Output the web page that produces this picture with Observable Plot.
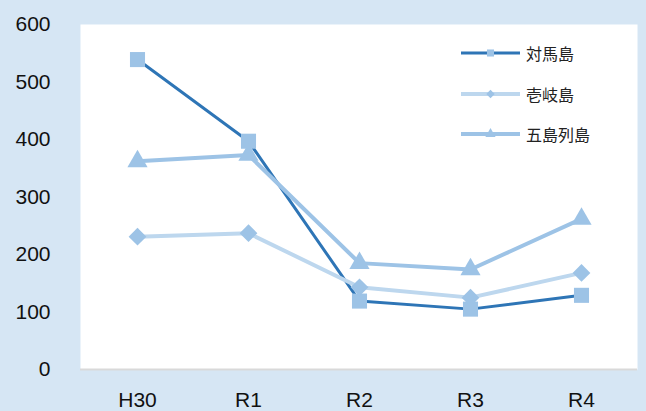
<!DOCTYPE html>
<html>
<head>
<meta charset="utf-8">
<script src="https://cdn.jsdelivr.net/npm/d3@7"></script>
<script src="https://cdn.jsdelivr.net/npm/@observablehq/plot@0.6"></script>
<style>
  html, body { margin: 0; padding: 0; background: #d6e6f4; }
  #wrap { position: relative; width: 646px; height: 411px; overflow: hidden; }
  #legend { position: absolute; left: 461px; top: 43px; font-family: "Noto Sans CJK JP", sans-serif; font-size: 16px; color: #222; }
  .row { display: flex; align-items: center; height: 20px; margin-bottom: 20.5px; }
  .row svg { display: block; margin-right: 6px; }
</style>
</head>
<body>
<div id="wrap"><div id="chart"></div><div id="legend"></div></div>
<script>
const years = ["H30", "R1", "R2", "R3", "R4"];
const tsushima = [539, 397, 119, 105, 129];
const iki = [231, 237, 143, 125, 168];
const goto = [362, 373, 185, 174, 262];
const seriesNames = ["対馬島", "壱岐島", "五島列島"];
const yTicks = [0, 100, 200, 300, 400, 500, 600];

const toRows = vals => years.map((y, i) => ({year: y, value: vals[i]}));
const d1 = toRows(tsushima), d2 = toRows(iki), d3r = toRows(goto);

const markerFill = "#9dc3e6";
const lineColors = ["#2e75b6", "#bdd7ee", "#9dc3e6"];

const chart = Plot.plot({
  width: 646,
  height: 411,
  marginLeft: 80,
  marginRight: 9,
  marginTop: 24,
  marginBottom: 42,
  style: {background: "transparent", fontFamily: "'Liberation Sans', Arial, sans-serif", fontSize: "21px", color: "#111"},
  x: {type: "point", domain: years, padding: 0.5, label: null, tickSize: 0, tickPadding: 23},
  y: {domain: [0, 600], ticks: yTicks, label: null, tickSize: 0, tickPadding: 30},
  marks: [
    Plot.frame({fill: "white", stroke: null}),
    Plot.ruleY([0], {stroke: "#d9d9d9", strokeWidth: 2}),
    Plot.line(d1, {x: "year", y: "value", stroke: lineColors[0], strokeWidth: 3}),
    Plot.dot(d1, {x: "year", y: "value", symbol: "square", fill: markerFill, r: 8.5}),
    Plot.line(d2, {x: "year", y: "value", stroke: lineColors[1], strokeWidth: 4}),
    Plot.dot(d2, {x: "year", y: "value", symbol: "diamond2", fill: markerFill, r: 8}),
    Plot.line(d3r, {x: "year", y: "value", stroke: lineColors[2], strokeWidth: 4}),
    Plot.dot(d3r, {x: "year", y: "value", symbol: "triangle", fill: markerFill, r: 7.5})
  ]
});
document.getElementById("chart").appendChild(chart);

const symbols = [d3.symbolSquare, d3.symbolDiamond2, d3.symbolTriangle];
const sizes = [50, 45, 45];
const widths = [3, 4, 4];
const legend = d3.select("#legend");
seriesNames.forEach((name, i) => {
  const row = legend.append("div").attr("class", "row");
  const svg = row.append("svg").attr("width", 59).attr("height", 20);
  svg.append("line").attr("x1", 0).attr("x2", 59).attr("y1", 10).attr("y2", 10)
    .attr("stroke", lineColors[i]).attr("stroke-width", widths[i]);
  svg.append("path").attr("d", d3.symbol(symbols[i], sizes[i])())
    .attr("transform", "translate(29.5,10)").attr("fill", markerFill);
  row.append("span").text(name);
});
</script>
</body>
</html>
